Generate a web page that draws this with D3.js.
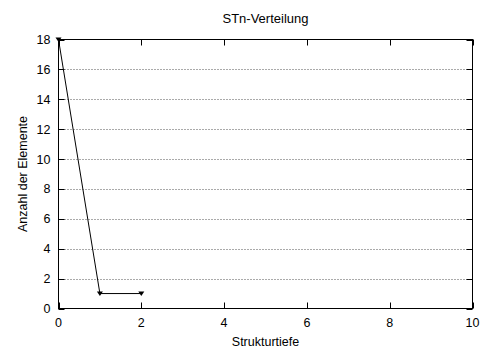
<!DOCTYPE html>
<html lang="de">
<head>
<meta charset="utf-8">
<title>STn-Verteilung</title>
<script src="https://cdn.jsdelivr.net/npm/d3@7"></script>
<style>
  body { margin: 0; background: #fff; }
  text { font-family: "Liberation Sans", Arial, sans-serif; font-size: 12.5px; fill: #000; }
</style>
</head>
<body>
<script>
// data
var tiefe = [0, 1, 2];
var anzahl = [18, 1, 1];
var xTicks = [0, 2, 4, 6, 8, 10];
var yTicks = [0, 2, 4, 6, 8, 10, 12, 14, 16, 18];

var w = 482, h = 350;
var m = { left: 58.5, right: 472.5, top: 39.5, bottom: 308.5 };

var x = d3.scaleLinear().domain([0, 10]).range([m.left, m.right]);
var y = d3.scaleLinear().domain([0, 18]).range([m.bottom, m.top]);

var svg = d3.select("body").append("svg")
  .attr("width", w)
  .attr("height", h);

// grid
svg.append("g").selectAll("line")
  .data(yTicks.filter(function(d) { return d > 0 && d < 18; }))
  .enter().append("line")
  .attr("x1", m.left).attr("x2", m.right)
  .attr("y1", function(d) { return Math.round(y(d)) + 0.5; })
  .attr("y2", function(d) { return Math.round(y(d)) + 0.5; })
  .attr("stroke", "#555")
  .attr("stroke-width", 1)
  .attr("stroke-dasharray", "1,2");

// axes (ticks inward, mirrored)
var tl = 6;
var ax = svg.append("g").attr("stroke", "#000").attr("stroke-width", 1);
xTicks.forEach(function(d) {
  var px = Math.round(x(d)) + 0.5;
  ax.append("line").attr("x1", px).attr("x2", px).attr("y1", m.bottom).attr("y2", m.bottom - tl);
  ax.append("line").attr("x1", px).attr("x2", px).attr("y1", m.top).attr("y2", m.top + tl);
});
yTicks.forEach(function(d) {
  var py = Math.round(y(d)) + 0.5;
  ax.append("line").attr("x1", m.left).attr("x2", m.left + tl).attr("y1", py).attr("y2", py);
  ax.append("line").attr("x1", m.right).attr("x2", m.right - tl).attr("y1", py).attr("y2", py);
});
ax.append("rect")
  .attr("x", m.left).attr("y", m.top)
  .attr("width", m.right - m.left).attr("height", m.bottom - m.top)
  .attr("fill", "none");

// tick labels
svg.append("g").selectAll("text")
  .data(xTicks).enter().append("text")
  .attr("x", function(d) { return x(d); })
  .attr("y", 327)
  .attr("text-anchor", "middle")
  .text(function(d) { return d; });

svg.append("g").selectAll("text")
  .data(yTicks).enter().append("text")
  .attr("x", m.left - 8)
  .attr("y", function(d) { return y(d) + 4.5; })
  .attr("text-anchor", "end")
  .text(function(d) { return d; });

// titles
svg.append("text")
  .attr("x", (m.left + m.right) / 2).attr("y", 23)
  .attr("text-anchor", "middle")
  .style("font-size", "13px")
  .text("STn-Verteilung");

svg.append("text")
  .attr("x", (m.left + m.right) / 2).attr("y", 346)
  .attr("text-anchor", "middle")
  .text("Strukturtiefe");

svg.append("text")
  .attr("transform", "translate(27," + ((m.top + m.bottom) / 2) + ") rotate(-90)")
  .attr("text-anchor", "middle")
  .text("Anzahl der Elemente");

// line + markers
var pts = tiefe.map(function(d, i) { return [d, anzahl[i]]; });
svg.append("path")
  .datum(pts)
  .attr("fill", "none")
  .attr("stroke", "#000")
  .attr("stroke-width", 1)
  .attr("d", d3.line().x(function(d) { return x(d[0]); }).y(function(d) { return y(d[1]); }));

svg.append("g").selectAll("path")
  .data(pts).enter().append("path")
  .attr("d", "M-3,-2L3,-2L0,2.5Z")
  .attr("transform", function(d) { return "translate(" + x(d[0]) + "," + y(d[1]) + ")"; })
  .attr("fill", "#000");
</script>
</body>
</html>
